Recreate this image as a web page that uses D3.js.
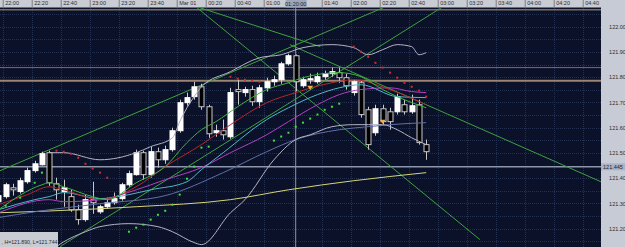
<!DOCTYPE html>
<html>
<head>
<meta charset="utf-8">
<script src="https://cdn.jsdelivr.net/npm/d3@7"></script>
<style>
  body { margin: 0; background: #0a1128; overflow: hidden; }
  svg { display: block; font-family: "Liberation Sans", Arial, sans-serif; }
</style>
</head>
<body>
<div id="chart"></div>
<script>
// bars: index -1 .. 58, bar i opens at 22:00 + 5*i minutes (5 minute candles)
const firstBar = -1
const opens  = [121.307,121.327,121.362,121.347,121.386,121.430,121.453,121.501,121.378,121.347,121.327,121.275,121.236,121.315,121.267,121.287,121.303,121.319,121.374,121.414,121.501,121.414,121.505,121.473,121.513,121.588,121.699,121.723,121.762,121.683,121.580,121.588,121.564,121.751,121.739,121.751,121.703,121.758,121.782,121.790,121.853,121.885,121.766,121.790,121.782,121.802,121.814,121.818,121.798,121.739,121.778,121.671,121.580,121.675,121.663,121.663,121.691,121.663,121.691,121.533]
const highs  = [121.343,121.382,121.378,121.402,121.442,121.469,121.505,121.509,121.402,121.394,121.354,121.295,121.335,121.386,121.295,121.323,121.343,121.382,121.430,121.513,121.509,121.525,121.521,121.529,121.600,121.711,121.739,121.782,121.774,121.691,121.612,121.632,121.758,121.790,121.762,121.766,121.770,121.798,121.806,121.861,121.893,121.890,121.802,121.814,121.818,121.826,121.838,121.838,121.814,121.790,121.786,121.683,121.691,121.691,121.679,121.735,121.711,121.731,121.711,121.553]
const lows   = [121.295,121.319,121.331,121.339,121.378,121.422,121.450,121.370,121.315,121.287,121.267,121.216,121.228,121.259,121.259,121.279,121.295,121.311,121.366,121.410,121.394,121.402,121.442,121.457,121.505,121.580,121.687,121.711,121.671,121.560,121.564,121.553,121.556,121.691,121.723,121.687,121.679,121.743,121.766,121.774,121.846,121.744,121.758,121.774,121.774,121.790,121.802,121.778,121.751,121.727,121.640,121.513,121.568,121.612,121.592,121.652,121.652,121.655,121.533,121.473]
const closes = [121.331,121.374,121.354,121.390,121.430,121.457,121.497,121.382,121.354,121.362,121.275,121.236,121.315,121.303,121.287,121.303,121.319,121.374,121.418,121.501,121.414,121.505,121.473,121.513,121.588,121.699,121.719,121.762,121.683,121.576,121.588,121.572,121.739,121.743,121.751,121.703,121.758,121.782,121.790,121.853,121.885,121.782,121.790,121.794,121.802,121.814,121.822,121.798,121.766,121.782,121.652,121.533,121.675,121.624,121.624,121.723,121.663,121.687,121.541,121.505]

// indicator lines: [bar index, price]
const maYellow = [[-1,121.263],[13,121.279],[18,121.287],[31,121.315],[39,121.354],[48,121.390],[58,121.422]]
const maSlate = [[-1,121.244],[4,121.267],[13,121.299],[22,121.331],[30,121.422],[36,121.505],[40,121.553],[46,121.592],[50,121.604],[53,121.612],[58,121.620]]
const maMagenta = [[-1,121.263],[6,121.315],[8,121.307],[13,121.315],[18,121.354],[22,121.394],[27,121.442],[31,121.501],[36,121.572],[39,121.624],[43,121.691],[46,121.731],[49,121.751],[53,121.758],[56,121.743],[58,121.739]]
const maCyan = [[-1,121.275],[4,121.315],[6,121.327],[8,121.343],[13,121.319],[17,121.335],[20,121.354],[25,121.386],[27,121.434],[30,121.501],[36,121.632],[39,121.679],[43,121.731],[46,121.758],[49,121.770],[54,121.723],[58,121.719]]
const maRed = [[-1,121.295],[3,121.335],[6,121.366],[8,121.354],[13,121.315],[18,121.366],[22,121.446],[27,121.533],[31,121.612],[36,121.699],[40,121.739],[45,121.778],[48,121.790],[53,121.751],[58,121.691]]
const maGreen = [[-1,121.275],[5,121.374],[6,121.382],[8,121.366],[12,121.327],[14,121.315],[18,121.382],[22,121.446],[25,121.541],[27,121.592],[29,121.624],[32,121.683],[36,121.751],[39,121.778],[41,121.798],[46,121.818],[49,121.802],[52,121.751],[54,121.723],[58,121.679]]
const bandUpper = [[6,121.501],[8,121.501],[13,121.473],[18,121.501],[20,121.525],[23,121.560],[24,121.624],[25,121.679],[26,121.723],[27,121.762],[31,121.822],[35,121.877],[38,121.889],[41,121.917],[45,121.929],[48,121.917],[50,121.889],[52,121.909],[54,121.929],[56,121.921],[57,121.889],[58,121.897]]
const bandLower = [[5,121.080],[7,121.129],[11,121.188],[13,121.208],[17,121.220],[21,121.208],[23,121.188],[26,121.145],[27,121.137],[31,121.263],[33,121.315],[37,121.473],[40,121.553],[42,121.572],[45,121.604],[48,121.612],[50,121.612],[52,121.612],[54,121.592],[56,121.560],[58,121.533]]

// parabolic SAR dots
const sarUp = [[0,121.291],[2,121.323],[4,121.382],[5,121.422],[17,121.188],[18,121.204],[19,121.216],[20,121.236],[21,121.255],[22,121.271],[23,121.295],[24,121.335],[25,121.398],[26,121.446],[27,121.521],[28,121.525],[37,121.549],[38,121.565],[39,121.580],[40,121.604],[41,121.620],[42,121.636],[43,121.652],[44,121.671],[45,121.683],[46,121.695]]
const sarDown = [[7,121.509],[8,121.505],[9,121.497],[10,121.481],[11,121.457],[12,121.438],[13,121.422],[14,121.402],[31,121.802],[32,121.794],[33,121.790],[34,121.786],[35,121.782],[48,121.921],[49,121.901],[50,121.881],[51,121.857],[52,121.838],[53,121.818],[54,121.798],[55,121.778],[56,121.762],[57,121.747],[58,121.723]]
const arrows = [[42,121.758],[52,121.624]]

// hand drawn trend lines: [bar, price] -> [bar, price]
const trendLines = [
  [[-1,121.427],[55,122.111]],
  [[7.5,121.129],[60.3,122.079]],
  [[26.4,122.075],[65.4,121.157]],
  [[26.8,122.075],[43.4,121.921]],
  [[39.2,121.929],[82.1,121.386]]
]
const hLines = [[122.067,'#7d6c5e',1.5],[121.838,'#a8566a',1],[121.786,'#9c8472',2]]

const priceTicks = [121.2,121.3,121.4,121.5,121.6,121.7,121.8,121.9,122.0]
const crossBar = 40
const crossPrice = 121.445
const crossInfo = ', H=121.890, L=121.744'

// Dimensions
const width = 625, height = 247
const plotRight = 601, plotTop = 8

const svg = d3.select('#chart').append('svg')
  .attr('width', width).attr('height', height)

svg.append('rect').attr('width', width).attr('height', height).attr('fill', '#0a1128')

// Scales
const t0 = new Date(2011, 1, 28, 22, 0)
const barTime = i => new Date(+t0 + i * 5 * 60000)
const xScale = d3.scaleTime()
  .domain([t0, new Date(2011, 2, 1, 4, 40)])
  .range([2.7, 582.7])
const barX = i => xScale(barTime(i)) + 3
const yScale = d3.scaleLinear().domain([121.2, 122.0]).range([228.7, 26.7])

const tickTimes = d3.range(0, 21).map(k => new Date(+t0 + k * 20 * 60000))

svg.append('clipPath').attr('id', 'plot')
  .append('rect').attr('x', 0).attr('y', plotTop).attr('width', plotRight).attr('height', height - plotTop)
const plot = svg.append('g').attr('clip-path', 'url(#plot)')

// grid
plot.append('g').selectAll('line').data(tickTimes).join('line')
  .attr('x1', d => Math.round(xScale(d)) + 0.5).attr('x2', d => Math.round(xScale(d)) + 0.5)
  .attr('y1', plotTop).attr('y2', height)
  .attr('stroke', '#243050').attr('stroke-dasharray', '1,1')
plot.append('g').selectAll('line').data(d3.range(121.15, 122.1, 0.05)).join('line')
  .attr('x1', 0).attr('x2', plotRight)
  .attr('y1', d => Math.round(yScale(d)) + 0.5).attr('y2', d => Math.round(yScale(d)) + 0.5)
  .attr('stroke', '#243050').attr('stroke-dasharray', '1,1')

// horizontal levels
plot.append('g').selectAll('line').data(hLines).join('line')
  .attr('x1', 0).attr('x2', plotRight)
  .attr('y1', d => yScale(d[0])).attr('y2', d => yScale(d[0]))
  .attr('stroke', d => d[1]).attr('stroke-width', d => d[2])

// crosshair
plot.append('line')
  .attr('x1', 0).attr('x2', plotRight)
  .attr('y1', yScale(crossPrice)).attr('y2', yScale(crossPrice))
  .attr('stroke', '#8d96aa').attr('stroke-width', 1.5)
plot.append('line')
  .attr('x1', barX(crossBar)).attr('x2', barX(crossBar))
  .attr('y1', plotTop).attr('y2', height)
  .attr('stroke', '#8d96aa').attr('stroke-width', 1)

// trend lines
plot.append('g').selectAll('line').data(trendLines).join('line')
  .attr('x1', d => barX(d[0][0])).attr('y1', d => yScale(d[0][1]))
  .attr('x2', d => barX(d[1][0])).attr('y2', d => yScale(d[1][1]))
  .attr('stroke', '#3fa23f').attr('stroke-width', 1)

// candles
const bars = opens.map((o, k) => ({ i: k + firstBar, o, h: highs[k], l: lows[k], c: closes[k] }))
const candles = plot.append('g')
candles.selectAll('line').data(bars).join('line')
  .attr('x1', d => Math.round(barX(d.i)) + 0.5).attr('x2', d => Math.round(barX(d.i)) + 0.5)
  .attr('y1', d => yScale(d.h)).attr('y2', d => yScale(d.l))
  .attr('stroke', '#c8c8c8')
candles.selectAll('rect').data(bars).join('rect')
  .attr('x', d => Math.round(barX(d.i)) - 2)
  .attr('width', 5)
  .attr('y', d => yScale(Math.max(d.o, d.c)))
  .attr('height', d => Math.max(1, Math.abs(yScale(d.o) - yScale(d.c))))
  .attr('fill', d => d.c >= d.o ? '#ffffff' : '#000000')
  .attr('stroke', d => d.c >= d.o ? '#ffffff' : '#c8c8c8')
  .attr('stroke-width', 1)

// indicator lines
const lineGen = d3.line()
  .x(d => barX(d[0]))
  .y(d => yScale(d[1]))
  .curve(d3.curveMonotoneX)
const lines = [
  [maYellow, '#d6d47a'],
  [maSlate, '#5f6fa8'],
  [bandUpper, '#b7b2c6'],
  [bandLower, '#b7b2c6'],
  [maMagenta, '#b43fc4'],
  [maCyan, '#4fb8c8'],
  [maRed, '#b8262a'],
  [maGreen, '#3fb03f']
]
plot.append('g').selectAll('path').data(lines).join('path')
  .attr('d', d => lineGen(d[0]))
  .attr('fill', 'none')
  .attr('stroke', d => d[1])
  .attr('stroke-width', 1)

// SAR dots
plot.append('g').selectAll('rect').data(sarUp).join('rect')
  .attr('x', d => barX(d[0]) - 1).attr('y', d => yScale(d[1]) - 1)
  .attr('width', 2).attr('height', 2).attr('fill', '#3ee03e')
plot.append('g').selectAll('rect').data(sarDown).join('rect')
  .attr('x', d => barX(d[0]) - 1).attr('y', d => yScale(d[1]) - 1)
  .attr('width', 2).attr('height', 2).attr('fill', '#d42a2a')
plot.append('g').selectAll('path').data(arrows).join('path')
  .attr('d', d => `M${barX(d[0]) - 3},${yScale(d[1]) - 2}h6l-3,4z`)
  .attr('fill', '#f0b050')

// top time axis
svg.append('rect').attr('width', plotRight).attr('height', 7.5).attr('fill', '#c9ccd3')
const crossTime = barTime(crossBar)
const fmt = d => (d.getHours() === 0 && d.getMinutes() === 0) ? d3.timeFormat('%b %d')(d) : d3.timeFormat('%H:%M')(d)
const xAxis = d3.axisBottom(xScale).tickValues(tickTimes).tickSize(7.5).tickFormat(fmt)
const xAxisGroup = svg.append('g').call(xAxis)
xAxisGroup.select('.domain').remove()
xAxisGroup.selectAll('line').attr('stroke', '#7b7f88')
xAxisGroup.selectAll('text')
  .attr('y', 1).attr('dy', '0.71em').attr('x', 2)
  .attr('text-anchor', 'start')
  .attr('font-size', 5.5).attr('fill', '#2a2d33')
  .attr('font-family', '"Liberation Sans", Arial, sans-serif')
// the crosshair label covers the tick that sits under it
xAxisGroup.selectAll('.tick').filter(d => +d === +crossTime).select('text').remove()
// crosshair time label
const cx = barX(crossBar)
svg.append('rect').attr('x', cx - 10).attr('y', 0).attr('width', 21).attr('height', 7.5).attr('fill', '#9ea7ba')
svg.append('text').attr('x', cx).attr('y', 5.8).attr('text-anchor', 'middle')
  .attr('font-size', 5.5).attr('fill', '#1e2230').text(d3.timeFormat('%H:%M:%S')(crossTime))

// right price axis
svg.append('rect').attr('x', plotRight).attr('y', 0).attr('width', width - plotRight).attr('height', height).attr('fill', '#c6cbd6')
const yAxis = d3.axisRight(yScale).tickValues(priceTicks).tickSize(0).tickFormat(d3.format('.2f'))
const yAxisGroup = svg.append('g').attr('transform', `translate(${plotRight},0)`).call(yAxis)
yAxisGroup.select('.domain').remove()
yAxisGroup.selectAll('text')
  .attr('x', 16.5).attr('text-anchor', 'middle')
  .attr('font-size', 5.5).attr('fill', '#2a2d33')
  .attr('font-family', '"Liberation Sans", Arial, sans-serif')
svg.append('rect').attr('x', plotRight).attr('y', yScale(crossPrice) - 3.5).attr('width', width - plotRight).attr('height', 7)
  .attr('fill', '#a9b4c8')
svg.append('text').attr('x', plotRight + 12).attr('y', yScale(crossPrice) + 2)
  .attr('text-anchor', 'middle').attr('font-size', 5.5).attr('fill', '#1e2230')
  .text(d3.format('.3f')(crossPrice))

// crosshair info box
svg.append('rect').attr('x', 0).attr('y', 232).attr('width', 58).attr('height', 15).attr('fill', '#c9ccd3')
svg.append('text').attr('x', 1.5).attr('y', 244).attr('font-size', 5.2).attr('fill', '#2a2d33').text(crossInfo)
</script>
</body>
</html>
